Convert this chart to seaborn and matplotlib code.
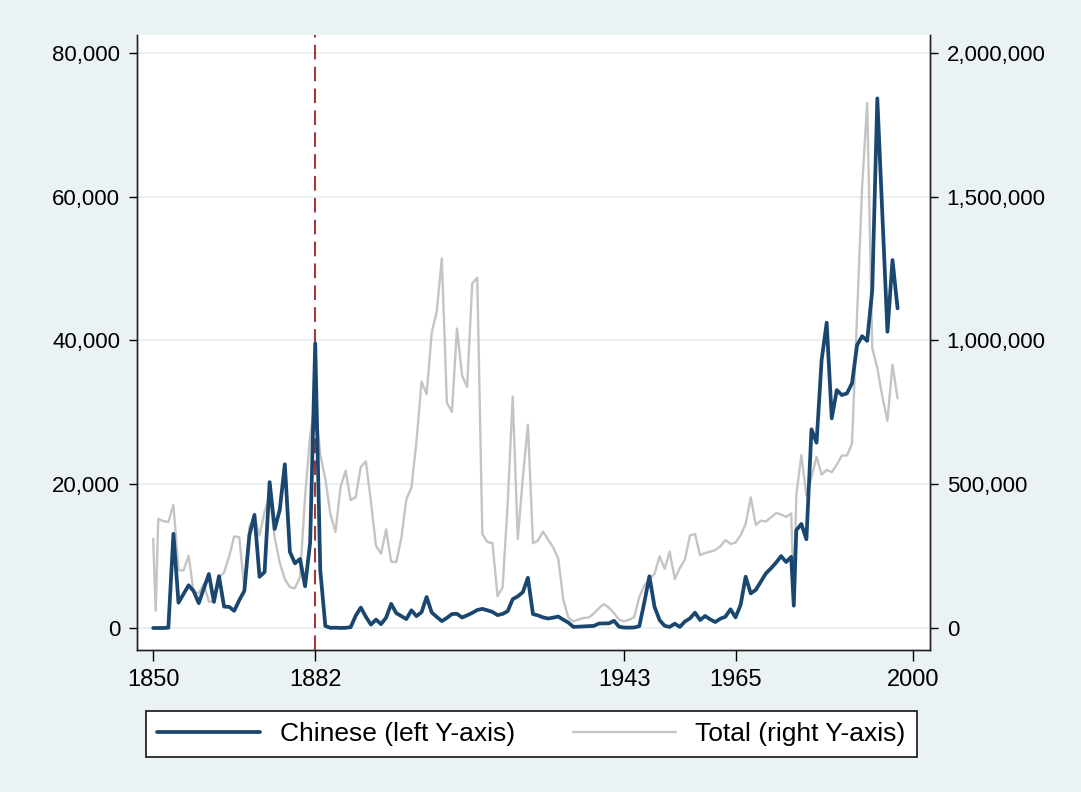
import pandas as pd
import numpy as np
import matplotlib
matplotlib.use("Agg")
import matplotlib.pyplot as plt
import seaborn as sns
from matplotlib.ticker import FuncFormatter

# Immigration per year (1850 and 1976 are split into a main year and an extra part-year)
years = [
    1850, 1850.5, 1851, 1852, 1853, 1854, 1855, 1856, 1857, 1858, 1859,
    1860, 1861, 1862, 1863, 1864, 1865, 1866, 1867, 1868, 1869,
    1870, 1871, 1872, 1873, 1874, 1875, 1876, 1877, 1878, 1879,
    1880, 1881, 1882, 1883, 1884, 1885, 1886, 1887, 1888, 1889,
    1890, 1891, 1892, 1893, 1894, 1895, 1896, 1897, 1898, 1899,
    1900, 1901, 1902, 1903, 1904, 1905, 1906, 1907, 1908, 1909,
    1910, 1911, 1912, 1913, 1914, 1915, 1916, 1917, 1918, 1919,
    1920, 1921, 1922, 1923, 1924, 1925, 1926, 1927, 1928, 1929,
    1930, 1931, 1932, 1933, 1934, 1935, 1936, 1937, 1938, 1939,
    1940, 1941, 1942, 1943, 1944, 1945, 1946, 1947, 1948, 1949,
    1950, 1951, 1952, 1953, 1954, 1955, 1956, 1957, 1958, 1959,
    1960, 1961, 1962, 1963, 1964, 1965, 1966, 1967, 1968, 1969,
    1970, 1971, 1972, 1973, 1974, 1975, 1976, 1976.5, 1977, 1978, 1979,
    1980, 1981, 1982, 1983, 1984, 1985, 1986, 1987, 1988, 1989,
    1990, 1991, 1992, 1993, 1994, 1995, 1996, 1997,
]

chinese = [
    0, 0, 0, 0, 42, 13100, 3526, 4733, 5944, 5128, 3457,
    5467, 7518, 3633, 7214, 2975, 2942, 2385, 3863, 5157, 12874,
    15740, 7135, 7788, 20292, 13776, 16437, 22781, 10594, 8992, 9604,
    5802, 11890, 39579, 8031, 279, 22, 40, 10, 26, 118,
    1716, 2836, 1570, 472, 1170, 539, 1441, 3363, 2071, 1660,
    1247, 2459, 1649, 2209, 4309, 2166, 1544, 961, 1397, 1943,
    1968, 1460, 1765, 2105, 2502, 2660, 2460, 2237, 1795, 1964,
    2330, 4009, 4406, 4986, 6992, 1937, 1751, 1471, 1320, 1446,
    1589, 1150, 750, 148, 187, 229, 273, 293, 613, 642,
    643, 1003, 179, 65, 50, 71, 252, 3600, 7200, 2960,
    1110, 300, 150, 600, 150, 900, 1340, 2130, 1110, 1670,
    1200, 830, 1290, 1570, 2600, 1480, 3200, 7140, 4820, 5300,
    6440, 7600, 8300, 9090, 10000, 9180, 9900, 3100, 13600, 14470, 12340,
    27640, 25780, 37280, 42470, 29170, 33100, 32410, 32640, 34040, 39360,
    40600, 39950, 47020, 73680, 57450, 41220, 51190, 44470,
]

total = [
    310000, 60000, 379466, 371603, 368645, 427833, 200877, 200436, 251306, 123126, 121282,
    153640, 91918, 91985, 176282, 193418, 248120, 318568, 315722, 138840, 352768,
    387203, 321350, 404806, 459803, 313339, 227498, 169986, 141857, 138469, 177826,
    457257, 669431, 788992, 603322, 518592, 395346, 334203, 490109, 546889, 444427,
    455302, 560319, 579663, 439730, 285631, 258536, 343267, 230832, 229299, 311715,
    448572, 487918, 648743, 857046, 812870, 1026499, 1100735, 1285349, 782870, 751786,
    1041570, 878587, 838172, 1197892, 1218480, 326700, 298826, 295403, 110618, 141132,
    430001, 805228, 309556, 522919, 706896, 294314, 304488, 335175, 307255, 279678,
    241700, 97139, 35576, 23068, 29470, 34956, 36329, 50244, 67895, 82998,
    70756, 51776, 28781, 23725, 28551, 38119, 108721, 147292, 170570, 188317,
    249187, 205717, 265520, 170434, 208177, 237790, 321625, 326867, 253265, 260686,
    265398, 271344, 283763, 306260, 292248, 296697, 323040, 361972, 454448, 358579,
    373326, 370478, 384685, 400063, 394861, 386194, 398613, 103676, 462315, 601442, 460348,
    524295, 595014, 533624, 550052, 541811, 568149, 600027, 599889, 641346, 1090172,
    1535872, 1826595, 973977, 904292, 804416, 720461, 915900, 798378,
]

xticks = [1850, 1882, 1943, 1965, 2000]
left_ticks = [0, 20000, 40000, 60000, 80000]
right_ticks = [0, 500000, 1000000, 1500000, 2000000]
marker_year = 1882

df = pd.DataFrame({'year': years, 'chinese': chinese, 'total': total})

bg = '#EAF2F3'
navy = '#1A476F'
grey = '#C4C4C4'
red = '#A03A3E'

sns.set_theme(style="white")
plt.rcParams['font.family'] = ['Liberation Sans', 'DejaVu Sans']

fig = plt.figure(figsize=(10.81, 7.92), dpi=100, facecolor=bg)
ax = fig.add_axes([0.1267, 0.1793, 0.7336, 0.7765])
ax2 = ax.twinx()

# Total on the right axis, drawn underneath
sns.lineplot(data=df, x='year', y='total', ax=ax2, color=grey, linewidth=1.7,
             label='Total (right Y-axis)')
sns.lineplot(data=df, x='year', y='chinese', ax=ax, color=navy, linewidth=2.7,
             label='Chinese (left Y-axis)')
ax.axvline(marker_year, color=red, linewidth=1.5, linestyle=(0, (7, 3.5)), zorder=1.5)

# put the left axes (Chinese) on top, white background on the twin
ax.set_zorder(ax2.get_zorder() + 1)
ax.patch.set_visible(False)
ax2.patch.set_visible(True)
ax2.patch.set_facecolor('white')

ax.set_xlim(1846.8, 2003.4)
ax.set_ylim(-3060, 82500)
ax2.set_ylim(-3060 * 25, 82500 * 25)

ax.set_xticks(xticks)
ax.set_yticks(left_ticks)
ax2.set_yticks(right_ticks)
fmt = FuncFormatter(lambda v, p: f"{v:,.0f}")
ax.yaxis.set_major_formatter(fmt)
ax2.yaxis.set_major_formatter(fmt)

ax2.grid(axis='y', color='#E6EFF1', linewidth=1.3)
ax2.set_axisbelow(True)
ax.grid(False)

ax.tick_params(axis='y', direction='out', length=6, width=1, pad=6, labelsize=16,
               left=True, colors='black')
ax.tick_params(axis='x', direction='out', length=8, width=1, pad=6, labelsize=17,
               bottom=True, colors='black')
ax2.tick_params(axis='y', direction='out', length=6, width=1, pad=6, labelsize=16,
                right=True, colors='black')

for a in (ax, ax2):
    a.set_xlabel('')
    a.set_ylabel('')
    a.spines['top'].set_visible(False)
    for s in ('left', 'right', 'bottom'):
        a.spines[s].set_color('#222222')
        a.spines[s].set_linewidth(1.0)
    if a.get_legend() is not None:
        a.get_legend().remove()

h1, l1 = ax.get_legend_handles_labels()
h2, l2 = ax2.get_legend_handles_labels()
leg = fig.legend(h1 + h2, l1 + l2, loc='center', bbox_to_anchor=(0.4917, 0.0732),
                 ncol=2, frameon=True, fancybox=False, fontsize=19,
                 handlelength=3.9, handletextpad=0.74, columnspacing=2.2,
                 borderpad=0.42, labelcolor='black')
leg.get_frame().set_edgecolor('#111111')
leg.get_frame().set_linewidth(1.2)
leg.get_frame().set_facecolor('white')
leg.get_frame().set_alpha(1)

fig.savefig('out.png', dpi=100, facecolor=fig.get_facecolor())
